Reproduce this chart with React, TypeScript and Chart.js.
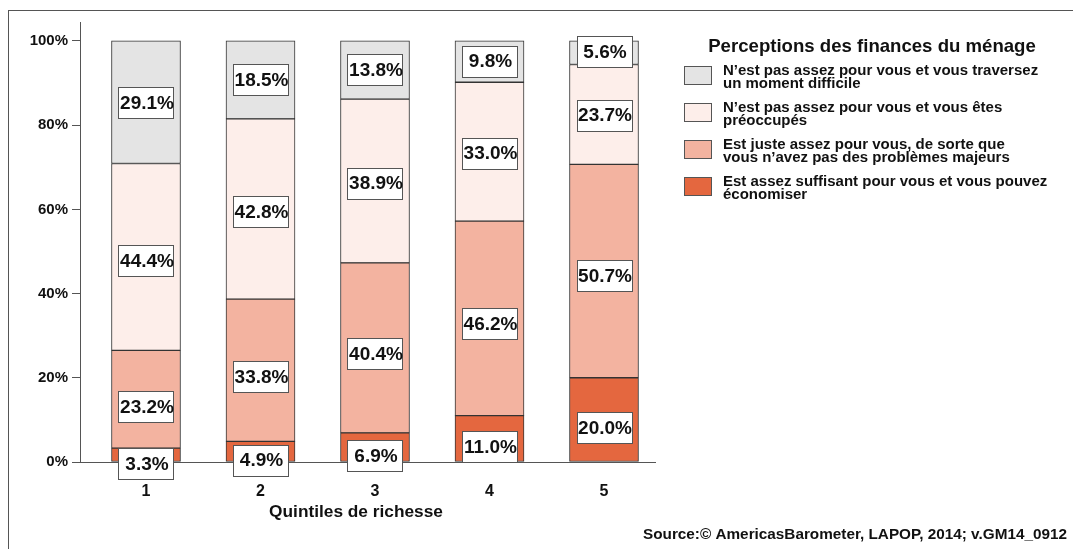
import React, { useEffect, useRef } from 'react';
import { Chart, registerables } from 'chart.js';

Chart.register(...registerables);

// ---- Data ----
const quintiles = [1, 2, 3, 4, 5];
const economiser = [3.3, 4.9, 6.9, 11.0, 20.0];
const justeAssez = [23.2, 33.8, 40.4, 46.2, 50.7];
const preoccupes = [44.4, 42.8, 38.9, 33.0, 23.7];
const difficile = [29.1, 18.5, 13.8, 9.8, 5.6];
const yTicks = [0, 20, 40, 60, 80, 100];

const legendTitle = 'Perceptions des finances du ménage';
const labelDifficile = ['N’est pas assez pour vous et vous traversez', 'un moment difficile'];
const labelPreoccupes = ['N’est pas assez pour vous et vous êtes', 'préoccupés'];
const labelJuste = ['Est juste assez pour vous, de sorte que', 'vous n’avez pas des problèmes majeurs'];
const labelEconomiser = ['Est assez suffisant pour vous et vous pouvez', 'économiser'];
const xTitle = 'Quintiles de richesse';
const sourceText = 'Source:© AmericasBarometer, LAPOP, 2014; v.GM14_0912';

// ---- Styles ----
const FONT = '"Liberation Sans", Arial, Helvetica, sans-serif';
const C_ECO = '#E4673F';
const C_JUSTE = '#F3B3A0';
const C_PREO = '#FDEEEA';
const C_DIFF = '#E4E4E4';
const BORDER = '#333333';
const AXIS = '#555555';
const TEXT = '#111111';

const X_MIN = 0.4236;
const X_MAX = 5.4454;
const Y_MAX = 104.5;
const LABEL_STRETCH = 1.0228;
const LABEL_SHIFT = -2.04;

const stackSeries = [
  { name: labelEconomiser.join(' '), values: economiser, color: C_ECO },
  { name: labelJuste.join(' '), values: justeAssez, color: C_JUSTE },
  { name: labelPreoccupes.join(' '), values: preoccupes, color: C_PREO },
  { name: labelDifficile.join(' '), values: difficile, color: C_DIFF },
];

const legendItems = [
  { lines: labelDifficile, color: C_DIFF },
  { lines: labelPreoccupes, color: C_PREO },
  { lines: labelJuste, color: C_JUSTE },
  { lines: labelEconomiser, color: C_ECO },
];

const decorPlugin = {
  id: 'decor',
  afterDatasetsDraw(chart: any) {
    const ctx = chart.ctx;
    const xs = chart.scales.x;
    const ys = chart.scales.y;
    ctx.save();
    quintiles.forEach((q, i) => {
      let cum = 0;
      stackSeries.forEach((s) => {
        const v = s.values[i];
        const center = cum + v / 2;
        cum += v;
        const x = xs.getPixelForValue(q);
        const y = ys.getPixelForValue(center * LABEL_STRETCH + LABEL_SHIFT);
        const w = 55;
        const h = 31;
        ctx.fillStyle = '#ffffff';
        ctx.fillRect(Math.round(x - w / 2) + 0.5, Math.round(y - h / 2) + 0.5, w, h);
        ctx.strokeStyle = AXIS;
        ctx.lineWidth = 1;
        ctx.strokeRect(Math.round(x - w / 2) + 0.5, Math.round(y - h / 2) + 0.5, w, h);
        ctx.fillStyle = TEXT;
        ctx.font = `bold 19px ${FONT}`;
        ctx.textAlign = 'center';
        ctx.textBaseline = 'middle';
        ctx.fillText(v.toFixed(1) + '%', x + 1, y + 1);
      });
    });
    ctx.restore();
  },
  afterDraw(chart: any) {
    const ctx = chart.ctx;
    ctx.save();
    // frame
    ctx.strokeStyle = AXIS;
    ctx.lineWidth = 1;
    ctx.strokeRect(8.5, 10.5, 3000, 3000);

    // legend title
    ctx.fillStyle = TEXT;
    ctx.font = `bold 18.6px ${FONT}`;
    ctx.textAlign = 'center';
    ctx.textBaseline = 'middle';
    ctx.fillText(legendTitle, 872, 47);

    // legend items
    legendItems.forEach((it, k) => {
      const top = 66 + k * 37;
      ctx.fillStyle = it.color;
      ctx.fillRect(684.5, top + 0.5, 27, 18);
      ctx.strokeStyle = AXIS;
      ctx.strokeRect(684.5, top + 0.5, 27, 18);
      ctx.fillStyle = TEXT;
      ctx.font = `bold 15px ${FONT}`;
      ctx.textAlign = 'left';
      ctx.textBaseline = 'middle';
      ctx.fillText(it.lines[0], 723, top + 5);
      ctx.fillText(it.lines[1], 723, top + 17.5);
    });

    // x axis title
    ctx.font = `bold 17.3px ${FONT}`;
    ctx.textAlign = 'center';
    ctx.textBaseline = 'middle';
    ctx.fillText(xTitle, 356, 512);

    // source
    ctx.font = `bold 15.3px ${FONT}`;
    ctx.textAlign = 'left';
    ctx.fillText(sourceText, 643, 535);
    ctx.restore();
  },
};

export default function App() {
  const ref = useRef<HTMLCanvasElement | null>(null);
  useEffect(() => {
    document.body.style.margin = '0';
    const canvas = ref.current;
    if (!canvas) return;
    const chart = new Chart(canvas, {
      type: 'bar',
      data: {
        datasets: stackSeries.map((s) => ({
          label: s.name,
          data: quintiles.map((q, i) => ({ x: q, y: s.values[i] })),
          backgroundColor: s.color,
          borderColor: BORDER,
          borderWidth: 1,
          borderSkipped: false,
          barThickness: 69,
        })),
      },
      options: {
        responsive: false,
        animation: false,
        devicePixelRatio: 1,
        layout: { padding: { top: 22, right: 418, bottom: 0, left: 0 } },
        plugins: {
          legend: { display: false },
          tooltip: { enabled: false },
          title: { display: false },
        },
        scales: {
          x: {
            type: 'linear',
            stacked: true,
            offset: false,
            min: X_MIN,
            max: X_MAX,
            afterBuildTicks: (s: any) => {
              s.ticks = quintiles.map((v) => ({ value: v }));
            },
            afterFit: (s: any) => {
              s.height = 87;
            },
            ticks: {
              color: TEXT,
              padding: 20,
              font: { family: FONT, size: 16, weight: 'bold' },
              callback: (v: any) => String(v),
            },
            grid: { display: false, drawTicks: false, offset: false },
            border: { display: true, color: AXIS, width: 1 },
          },
          y: {
            stacked: true,
            min: 0,
            max: Y_MAX,
            afterBuildTicks: (s: any) => {
              s.ticks = yTicks.map((v) => ({ value: v }));
            },
            afterFit: (s: any) => {
              s.width = 80;
            },
            ticks: {
              color: TEXT,
              padding: 4,
              font: { family: FONT, size: 15, weight: 'bold' },
              callback: (v: any) => v + '%',
            },
            grid: { display: true, drawOnChartArea: false, drawTicks: true, tickLength: 8, color: AXIS },
            border: { display: true, color: AXIS, width: 1 },
          },
        },
      },
      plugins: [decorPlugin],
    } as any);
    return () => chart.destroy();
  }, []);
  return (
    <div style={{ width: 1073, height: 549, background: '#fff' }}>
      <canvas ref={ref} width={1073} height={549} style={{ display: 'block' }} />
    </div>
  );
}
